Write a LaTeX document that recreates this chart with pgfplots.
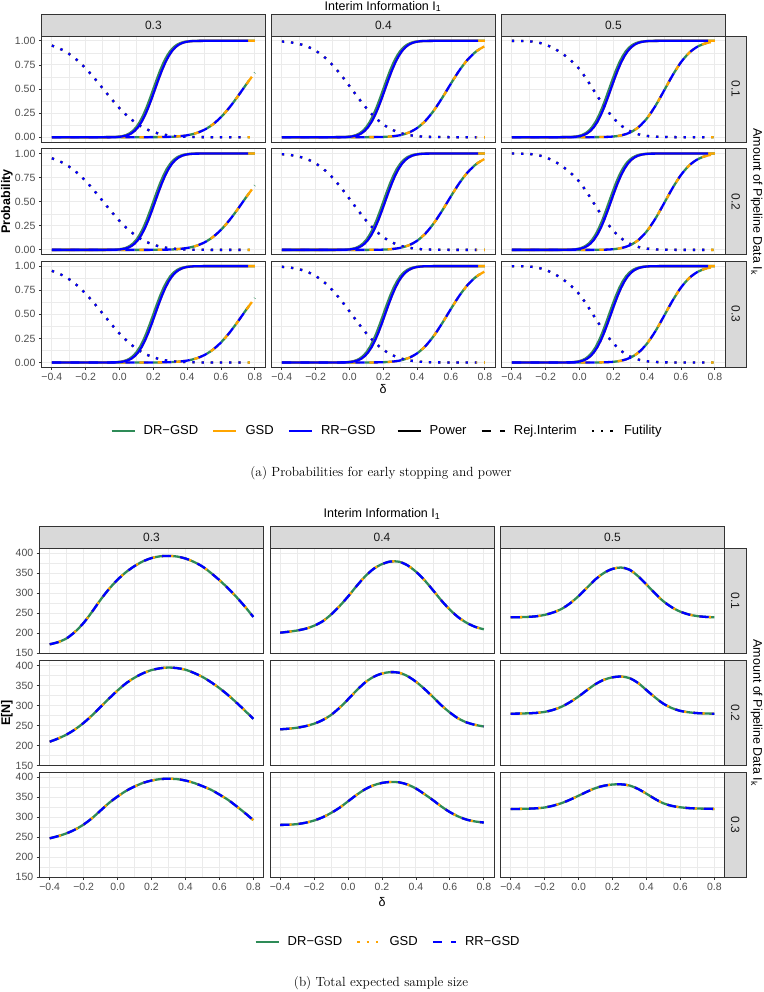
\documentclass[border=0pt]{standalone}
\usepackage{fontspec}
\usepackage{pgfplots}
\usepackage{pgfplotstable}
\pgfplotsset{compat=1.18}
\newfontfamily\sans{Liberation Sans}
\definecolor{ggreen}{HTML}{2E8B57}
\definecolor{gorange}{HTML}{FFA500}
\definecolor{gblue}{HTML}{0000FF}
\definecolor{grey92}{HTML}{EBEBEB}
\definecolor{grey85}{HTML}{D9D9D9}
\definecolor{grey20}{HTML}{333333}
\definecolor{grey30}{HTML}{4D4D4D}
\definecolor{grey10}{HTML}{1A1A1A}
\newcommand\tickf{\sans\fontsize{10.5}{12}\selectfont}
\newcommand\stripf{\sans\fontsize{12}{14}\selectfont}
\newcommand\titlef{\sans\fontsize{12.5}{15}\selectfont}
\newcommand\titlebf{\sans\bfseries\fontsize{12.5}{15}\selectfont}
\newcommand\legf{\sans\fontsize{13}{15}\selectfont}
\newcommand\capf{\rmfamily\fontsize{13.3}{16}\selectfont}

\tikzset{
 lg/.style={line width=2.3pt, line cap=butt, line join=round},
 pw/.style={lg, solid},
 rj/.style={lg, dash pattern=on 9.2pt off 9.2pt},
 ft/.style={lg, dash pattern=on 2.3pt off 6.9pt},
}

% ---------- power tables ----------
\pgfplotstableread{
d p
-0.40 0
-0.20 0
-0.10 0.0001
-0.04 0.0013
-0.02 0.0030
0.00 0.0062
0.02 0.0122
0.04 0.0228
0.06 0.0401
0.08 0.0668
0.10 0.1056
0.12 0.1587
0.14 0.2266
0.16 0.3085
0.18 0.4013
0.20 0.5000
0.22 0.5987
0.24 0.6915
0.26 0.7734
0.28 0.8413
0.30 0.8944
0.32 0.9332
0.34 0.9599
0.36 0.9772
0.38 0.9878
0.40 0.9938
0.42 0.9970
0.44 0.9987
0.50 1
0.60 1
0.70 1
0.80 1
}\PA
\pgfplotstableread{
d p
-0.40 0
-0.20 0
-0.09 0.0001
-0.03 0.0013
-0.01 0.0030
0.01 0.0062
0.03 0.0122
0.05 0.0228
0.07 0.0401
0.09 0.0668
0.11 0.1056
0.13 0.1587
0.15 0.2266
0.17 0.3085
0.19 0.4013
0.21 0.5000
0.23 0.5987
0.25 0.6915
0.27 0.7734
0.29 0.8413
0.31 0.8944
0.33 0.9332
0.35 0.9599
0.37 0.9772
0.39 0.9878
0.41 0.9938
0.43 0.9970
0.45 0.9987
0.51 1
0.60 1
0.70 1
0.76 1
0.80 1
}\PB
\pgfplotstableread{
d p
-0.40 0
-0.20 0
-0.125 0.0001
-0.065 0.0013
-0.045 0.0030
-0.025 0.0062
-0.005 0.0122
0.015 0.0228
0.035 0.0401
0.055 0.0668
0.075 0.1056
0.095 0.1587
0.115 0.2266
0.135 0.3085
0.155 0.4013
0.175 0.5000
0.195 0.5987
0.215 0.6915
0.235 0.7734
0.255 0.8413
0.275 0.8944
0.295 0.9332
0.315 0.9599
0.335 0.9772
0.355 0.9878
0.375 0.9938
0.395 0.9970
0.415 0.9987
0.475 1
0.60 1
0.70 1
0.80 1
}\PC
\pgfplotstableread{
d p
-0.40 0
-0.20 0
-0.115 0.0001
-0.055 0.0013
-0.035 0.0030
-0.015 0.0062
0.005 0.0122
0.025 0.0228
0.045 0.0401
0.065 0.0668
0.085 0.1056
0.105 0.1587
0.125 0.2266
0.145 0.3085
0.165 0.4013
0.185 0.5000
0.205 0.5987
0.225 0.6915
0.245 0.7734
0.265 0.8413
0.285 0.8944
0.305 0.9332
0.325 0.9599
0.345 0.9772
0.365 0.9878
0.385 0.9938
0.405 0.9970
0.425 0.9987
0.485 1
0.60 1
0.70 1
0.76 1
0.80 1
}\PD
% ---------- rejection at interim (r) and futility (f) ----------
\pgfplotstableread{
d r f
-0.40 0 0.9507
-0.35 0 0.9162
-0.30 0 0.8663
-0.25 0 0.7987
-0.20 0 0.7140
-0.15 0 0.6153
-0.10 0 0.5087
-0.05 0 0.4013
0.00 0 0.3008
0.05 0 0.2139
0.10 0 0.1434
0.15 0.0001 0.0906
0.20 0.0005 0.0538
0.25 0.0013 0.0300
0.30 0.0036 0.0157
0.35 0.0088 0.0077
0.40 0.0196 0.0035
0.45 0.0401 0.0015
0.50 0.0753 0.0006
0.55 0.1303 0.0002
0.60 0.2083 0.0001
0.65 0.3085 0
0.70 0.4256 0
0.75 0.5497 0
0.80 0.6691 0
}\TA
\pgfplotstableread{
d r f
-0.40 0 0.993
-0.35 0 0.9845
-0.30 0 0.9686
-0.25 0 0.941
-0.20 0 0.897
-0.15 0 0.8335
-0.10 0 0.7486
-0.05 0 0.6454
0.00 0 0.530
0.05 0 0.4121
0.10 0.0002 0.3015
0.15 0.0009 0.2067
0.20 0.0029 0.1324
0.25 0.0082 0.0788
0.30 0.0209 0.0436
0.35 0.0474 0.0223
0.40 0.0954 0.0106
0.45 0.1724 0.0047
0.50 0.2806 0.0019
0.55 0.4137 0.0007
0.60 0.5577 0.0002
0.65 0.6946 0.0001
0.70 0.8084 0
0.75 0.8916 0
0.80 0.9451 0
}\TB
\pgfplotstableread{
d r f
-0.40 0 0.9996
-0.35 0 0.9987
-0.30 0 0.996
-0.25 0 0.985
-0.20 0 0.96
-0.15 0 0.92
-0.10 0 0.865
-0.05 0 0.795
0.00 0 0.705
0.05 0 0.58
0.10 0.0005 0.4416
0.15 0.0021 0.3097
0.20 0.0069 0.1988
0.25 0.0199 0.1159
0.30 0.0492 0.0612
0.35 0.1056 0.029
0.40 0.1985 0.0124
0.45 0.3286 0.0047
0.50 0.484 0.0016
0.55 0.6417 0.0005
0.60 0.7782 0.0001
0.65 0.8788 0
0.70 0.9421 0
0.75 0.9759 0
0.80 0.9913 0
}\TC
% ---------- expected sample size ----------
\pgfplotstableread{
d N
-0.40 172.5
-0.35 178
-0.30 187.5
-0.25 204
-0.20 226
-0.15 254
-0.10 284
-0.05 311
0.00 334
0.05 353
0.10 368
0.15 380
0.20 388
0.25 392.5
0.30 393.5
0.35 392
0.40 387
0.45 378.5
0.50 367
0.55 351
0.60 333
0.65 313
0.70 291
0.75 267
0.80 241
}\NAa
\pgfplotstableread{
d N
-0.40 210
-0.35 218
-0.30 228
-0.25 241
-0.20 257
-0.15 276
-0.10 297
-0.05 318
0.00 338
0.05 356
0.10 370
0.15 381
0.20 389
0.25 393.5
0.30 395.5
0.35 394
0.40 390
0.45 382
0.50 372
0.55 359
0.60 344
0.65 327
0.70 308
0.75 288
0.80 267
}\NAb
\pgfplotstableread{
d N
-0.40 247.5
-0.35 253
-0.30 260
-0.25 269.5
-0.20 282
-0.15 298
-0.10 317
-0.05 336
0.00 352
0.05 366
0.10 377
0.15 386
0.20 392
0.25 395.5
0.30 396.5
0.35 395.5
0.40 392
0.45 386
0.50 378
0.55 369
0.60 357
0.65 344
0.70 328
0.75 311
0.80 293
}\NAc
\pgfplotstableread{
d N
-0.40 201.5
-0.35 204
-0.30 207
-0.25 211.5
-0.20 219
-0.15 230
-0.10 247
-0.05 268
0.00 292
0.05 318
0.10 342
0.15 361
0.20 373
0.25 379.5
0.30 379
0.35 370
0.40 354
0.45 333
0.50 308
0.55 282
0.60 259
0.65 240
0.70 226
0.75 216
0.80 210
}\NBa
\pgfplotstableread{
d N
-0.40 241
-0.35 242.5
-0.30 245
-0.25 249
-0.20 255
-0.15 264
-0.10 277
-0.05 295
0.00 316
0.05 338
0.10 358
0.15 372
0.20 380.5
0.25 384
0.30 382.5
0.35 374
0.40 360
0.45 342
0.50 322
0.55 301
0.60 283
0.65 268
0.70 258
0.75 252
0.80 248
}\NBb
\pgfplotstableread{
d N
-0.40 281
-0.35 281.5
-0.30 283
-0.25 286.5
-0.20 292
-0.15 300
-0.10 311
-0.05 324
0.00 340
0.05 356
0.10 370
0.15 380
0.20 386
0.25 388.5
0.30 387.5
0.35 382
0.40 372
0.45 358
0.50 343
0.55 327
0.60 313
0.65 302
0.70 294
0.75 289.5
0.80 287
}\NBc
\pgfplotstableread{
d N
-0.40 240
-0.35 240.3
-0.30 241
-0.25 242.5
-0.20 246
-0.15 252
-0.10 261
-0.05 275
0.00 293
0.05 314
0.10 335
0.15 351
0.20 361
0.25 364.5
0.30 359
0.35 343
0.40 322
0.45 300
0.50 280
0.55 265
0.60 254
0.65 247
0.70 243
0.75 241
0.80 240
}\NCa
\pgfplotstableread{
d N
-0.40 280
-0.35 280.3
-0.30 281
-0.25 282
-0.20 284.5
-0.15 289.5
-0.10 297.5
-0.05 309
0.00 323
0.05 339
0.10 354
0.15 365
0.20 371
0.25 373
0.30 369
0.35 357
0.40 339
0.45 321
0.50 305
0.55 294
0.60 287
0.65 283.5
0.70 281.5
0.75 280.5
0.80 280
}\NCb
\pgfplotstableread{
d N
-0.40 321
-0.35 321
-0.30 321.5
-0.25 322.5
-0.20 324.5
-0.15 329
-0.10 335.5
-0.05 344
0.00 354
0.05 364
0.10 373
0.15 379
0.20 382
0.25 382.5
0.30 379.5
0.35 371
0.40 359
0.45 346
0.50 335
0.55 328.5
0.60 325
0.65 323
0.70 322
0.75 321.5
0.80 321
}\NCc

\pgfplotsset{
 ggbase/.style={scale only axis, anchor=north west,
  xmin=-0.46, xmax=0.86,
  xtick={-0.4,-0.2,0,0.2,0.4,0.6,0.8},
  minor xtick={-0.3,-0.1,0.1,0.3,0.5,0.7},
  xticklabels={−0.4,−0.2,0.0,0.2,0.4,0.6,0.8},
  grid=both,
  major grid style={draw=grey92, line width=0.9pt},
  minor grid style={draw=grey92, line width=0.45pt},
  axis line style={draw=grey20, line width=0.8pt},
  tick align=outside, major tick length=2.75pt, minor tick length=0pt,
  xtick pos=bottom, ytick pos=left,
  tick style={draw=grey20, line width=0.8pt},
  tick label style={font=\tickf, text=grey30},
 },
 toppan/.style={ggbase, width=223.3pt, height=106pt, ymin=-0.05, ymax=1.05,
  ytick={0,0.25,0.5,0.75,1}, minor ytick={0.125,0.375,0.625,0.875},
  yticklabels={0.00,0.25,0.50,0.75,1.00}},
 botpan/.style={ggbase, width=224pt, height=105pt, ymin=150, ymax=412.5,
  ytick={150,200,250,300,350,400}, minor ytick={175,225,275,325,375},
  yticklabels={150,200,250,300,350,400}},
 noxt/.style={xticklabels={}, xmajorticks=false},
 noyt/.style={yticklabels={}, ymajorticks=false},
 legax/.style={hide axis, scale only axis, width=1pt, height=1pt, anchor=center,
  xmin=0, xmax=1, ymin=0, ymax=1,
  legend style={at={(0.5,0.5)}, anchor=center, draw=none, fill=none,
   legend columns=-1, font=\legf, legend cell align=left,
   /tikz/every odd column/.append style={column sep=6pt},
   /tikz/every even column/.append style={column sep=12pt}}},
 legend image code/.code={\draw[#1] (0pt,0pt) -- (23pt,0pt);},
}

\newcommand{\toppanel}[6][]{%
\begin{axis}[toppan, at={(#2pt,-#3pt)}, #1]
\addplot[pw, ggreen] table[x=d,y=p]{#4};
\addplot[rj, ggreen, smooth, dash phase=9.2pt] table[x=d,y=r]{#6};
\addplot[ft, ggreen, smooth] table[x=d,y=f]{#6};
\addplot[pw, gorange] table[x=d,y=p]{#5};
\addplot[rj, gorange, smooth, dash phase=4.6pt] table[x=d,y=r]{#6};
\addplot[ft, gorange, smooth] table[x=d,y=f]{#6};
\addplot[pw, gblue, restrict x to domain=-1:0.765] table[x=d,y=p]{#5};
\addplot[rj, gblue, smooth, restrict x to domain=-1:0.765] table[x=d,y=r]{#6};
\addplot[ft, gblue, smooth, restrict x to domain=-1:0.765] table[x=d,y=f]{#6};
\end{axis}}

\newcommand{\botpanel}[4][]{%
\begin{axis}[botpan, at={(#2pt,-#3pt)}, #1]
\addplot[pw, ggreen, smooth] table[x=d,y=N]{#4};
\addplot[ft, gorange, smooth] table[x=d,y=N]{#4};
\addplot[rj, gblue, smooth] table[x=d,y=N]{#4};
\end{axis}}

\begin{document}
\begin{tikzpicture}
\path[use as bounding box] (0pt,0pt) rectangle (763pt,-992pt);

% ================= (a) =================
\toppanel[noxt]{41.7}{36}{\PA}{\PB}{\TA}
\toppanel[noxt,noyt]{271.7}{36}{\PA}{\PB}{\TB}
\toppanel[noxt,noyt]{501.7}{36}{\PC}{\PD}{\TC}
\toppanel[noxt]{41.7}{148.7}{\PA}{\PB}{\TA}
\toppanel[noxt,noyt]{271.7}{148.7}{\PA}{\PB}{\TB}
\toppanel[noxt,noyt]{501.7}{148.7}{\PC}{\PD}{\TC}
\toppanel{41.7}{261.3}{\PA}{\PB}{\TA}
\toppanel[noyt]{271.7}{261.3}{\PA}{\PB}{\TB}
\toppanel[noyt]{501.7}{261.3}{\PC}{\PD}{\TC}

\foreach \x/\t in {41.7/0.3, 271.7/0.4, 501.7/0.5} {
  \filldraw[fill=grey85, draw=grey20, line width=0.8pt] (\x pt,-14.3pt) rectangle ++(223.3pt,-21.7pt);
  \node[font=\stripf, text=grey10] at (\x pt+111.65pt,-25.15pt) {\t};
}
\foreach \y/\t in {36/0.1, 148.7/0.2, 261.3/0.3} {
  \filldraw[fill=grey85, draw=grey20, line width=0.8pt] (725pt,-\y pt) rectangle ++(21.7pt,-106pt);
  \node[font=\stripf, text=grey10, rotate=-90] at (735.85pt,-\y pt-53pt) {\t};
}
\node[font=\titlef] at (383pt,-6.5pt) {Interim Information I\textsubscript{1}};
\node[font=\titlef, rotate=-90] at (756.5pt,-201.7pt) {Amount of Pipeline Data I\textsubscript{k}};
\node[font=\titlebf, rotate=90] at (7pt,-201.7pt) {Probability};
\node[font=\titlef] at (383pt,-389pt) {δ};

\begin{axis}[legax, at={(244pt,-431pt)}]
\addlegendimage{pw, ggreen}\addlegendentry{DR−GSD}
\addlegendimage{pw, gorange}\addlegendentry{GSD}
\addlegendimage{pw, gblue}\addlegendentry{RR−GSD}
\end{axis}
\begin{axis}[legax, at={(530pt,-431pt)}]
\addlegendimage{pw, black}\addlegendentry{Power}
\addlegendimage{rj, black}\addlegendentry{Rej.Interim}
\addlegendimage{ft, black}\addlegendentry{Futility}
\end{axis}
\node[font=\capf] at (381pt,-473pt) {(a) Probabilities for early stopping and power};

% ================= (b) =================
\botpanel[noxt]{39.5}{548.3}{\NAa}
\botpanel[noxt,noyt]{270}{548.3}{\NBa}
\botpanel[noxt,noyt]{500.5}{548.3}{\NCa}
\botpanel[noxt]{39.5}{660.7}{\NAb}
\botpanel[noxt,noyt]{270}{660.7}{\NBb}
\botpanel[noxt,noyt]{500.5}{660.7}{\NCb}
\botpanel{39.5}{772.3}{\NAc}
\botpanel[noyt]{270}{772.3}{\NBc}
\botpanel[noyt]{500.5}{772.3}{\NCc}

\foreach \x/\t in {39.5/0.3, 270/0.4, 500.5/0.5} {
  \filldraw[fill=grey85, draw=grey20, line width=0.8pt] (\x pt,-526.6pt) rectangle ++(224pt,-21.7pt);
  \node[font=\stripf, text=grey10] at (\x pt+112pt,-537.45pt) {\t};
}
\foreach \y/\t in {548.3/0.1, 660.7/0.2, 772.3/0.3} {
  \filldraw[fill=grey85, draw=grey20, line width=0.8pt] (724.5pt,-\y pt) rectangle ++(21.7pt,-105pt);
  \node[font=\stripf, text=grey10, rotate=-90] at (735.35pt,-\y pt-52.5pt) {\t};
}
\node[font=\titlef] at (382pt,-514pt) {Interim Information I\textsubscript{1}};
\node[font=\titlef, rotate=-90] at (756.5pt,-712.8pt) {Amount of Pipeline Data I\textsubscript{k}};
\node[font=\titlebf, rotate=90] at (7pt,-712.8pt) {E[N]};
\node[font=\titlef] at (382pt,-902pt) {δ};

\begin{axis}[legax, at={(388pt,-942pt)}]
\addlegendimage{pw, ggreen}\addlegendentry{DR−GSD}
\addlegendimage{ft, gorange}\addlegendentry{GSD}
\addlegendimage{rj, gblue}\addlegendentry{RR−GSD}
\end{axis}
\node[font=\capf] at (381pt,-983pt) {(b) Total expected sample size};
\end{tikzpicture}
\end{document}
